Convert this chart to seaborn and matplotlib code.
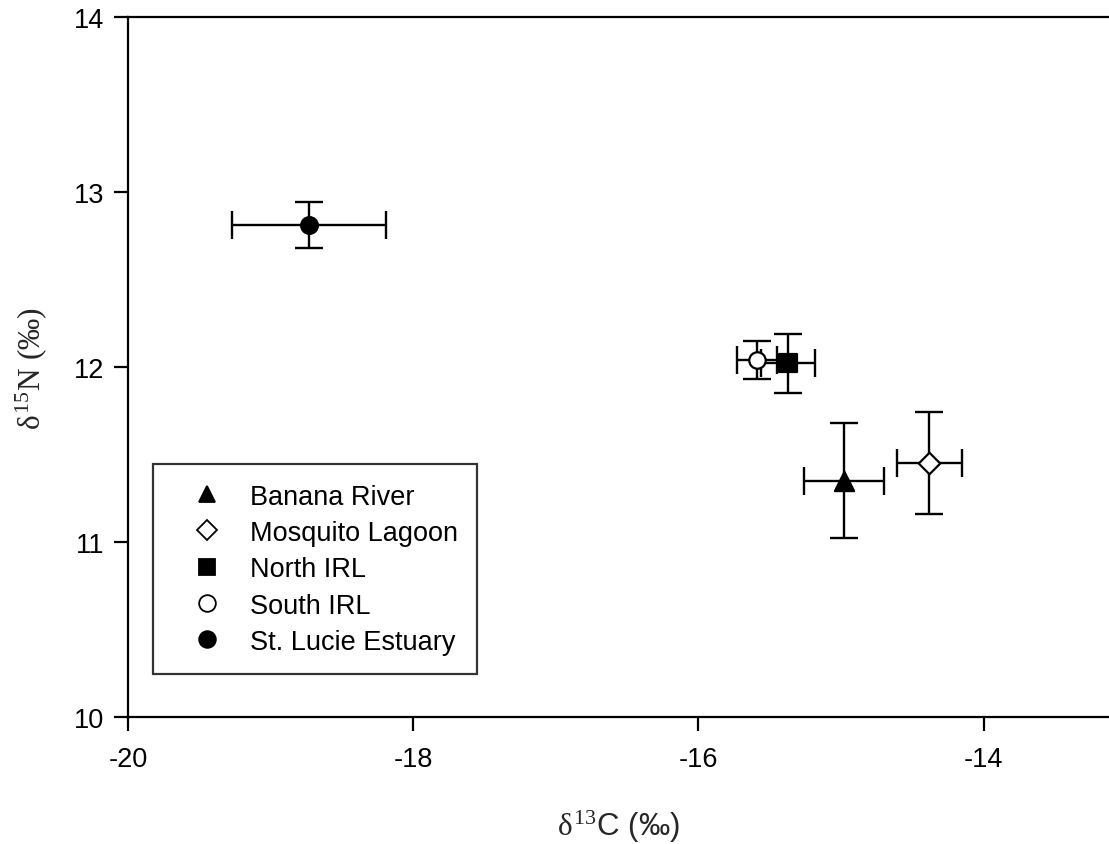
import numpy as np
import pandas as pd
import matplotlib
matplotlib.use("Agg")
import matplotlib.pyplot as plt
import seaborn as sns
from matplotlib.lines import Line2D

# sites and stable isotope means / errors (per mil)
sites = ["Banana River", "Mosquito Lagoon", "North IRL", "South IRL", "St. Lucie Estuary"]
d13c = [-14.98, -14.38, -15.37, -15.59, -18.73]
d15n = [11.35, 11.45, 12.02, 12.04, 12.81]
d13c_err = [0.28, 0.23, 0.19, 0.14, 0.54]
d15n_err = [0.33, 0.29, 0.17, 0.11, 0.13]

markers = ["^", "D", "s", "o", "o"]
faces = ["black", "white", "black", "white", "black"]
msizes = [190, 120, 160, 140, 145]

df = pd.DataFrame({"site": sites, "d13c": d13c, "d15n": d15n})

sns.set_style("ticks")
plt.rcParams["font.family"] = ["Liberation Sans", "DejaVu Sans"]
plt.rcParams["axes.unicode_minus"] = False
plt.rcParams["mathtext.fontset"] = "custom"
plt.rcParams["mathtext.rm"] = "Liberation Serif"
plt.rcParams["mathtext.it"] = "Liberation Serif"

fig = plt.figure(figsize=(11.09, 8.45), dpi=100)
ax = fig.add_axes([0.1154, 0.1503, 0.8846, 0.8284])

handles = []
for i, s in enumerate(sites):
    ax.errorbar(d13c[i], d15n[i], xerr=d13c_err[i], yerr=d15n_err[i],
                fmt="none", ecolor="black", elinewidth=1.7, capsize=10,
                capthick=1.7, zorder=2)
    sns.scatterplot(data=df[df.site == s], x="d13c", y="d15n", ax=ax,
                    marker=markers[i], s=msizes[i], color=faces[i],
                    edgecolor="black", linewidth=1.6, zorder=3, legend=False)
    handles.append(Line2D([], [], ls="none", marker=markers[i],
                          markersize=12 if markers[i] != "D" else 10,
                          markerfacecolor=faces[i], markeredgecolor="black",
                          markeredgewidth=1.3, label=s))

ax.set_xlim(-20, -13.12)
ax.set_ylim(10, 14)
ax.set_xticks([-20, -18, -16, -14])
ax.set_yticks([10, 11, 12, 13, 14])
ax.tick_params(direction="out", length=10, width=1.6, labelsize=19.5,
               colors="black")
ax.tick_params(axis="x", pad=11)
ax.tick_params(axis="y", pad=7)
for sp in ["left", "bottom", "top"]:
    ax.spines[sp].set_linewidth(1.6)
    ax.spines[sp].set_color("black")
ax.spines["right"].set_visible(False)

ax.set_xlabel(r"$\delta^{13}$C (‰)", fontsize=22.5, labelpad=26)
ax.set_ylabel(r"$\delta^{15}\mathrm{N\ (‰)}$", fontsize=22.5, labelpad=18)

leg = ax.legend(handles=handles, loc="lower left",
                bbox_to_anchor=(0.0255, 0.061), fontsize=19.5, frameon=True,
                fancybox=False, edgecolor="black", borderpad=0.72,
                handletextpad=0.31, labelspacing=0.38, borderaxespad=0,
                handlelength=2.55)
leg.get_frame().set_linewidth(1.6)
leg.get_frame().set_boxstyle("square", pad=0)
for t in leg.get_texts():
    t.set_color("black")

fig.savefig("out.png", dpi=100)
